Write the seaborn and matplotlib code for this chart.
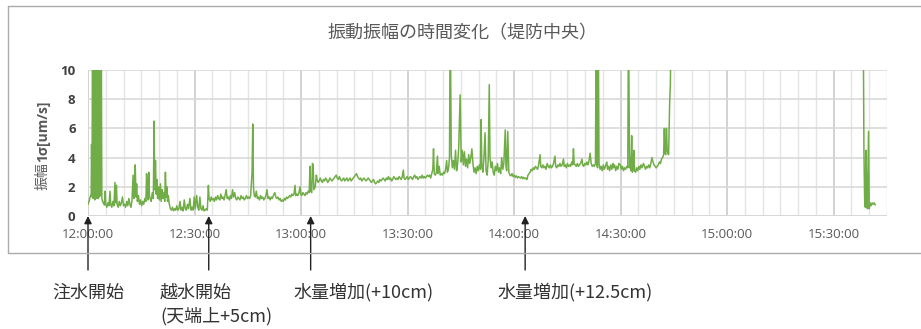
import matplotlib
matplotlib.use("Agg")
import numpy as np
import pandas as pd
import seaborn as sns
import matplotlib.pyplot as plt
import matplotlib.dates as mdates
from matplotlib.lines import Line2D

# ---- data: minutes after 12:00 and vibration amplitude (1 sigma, um/s) ----
run1_minutes = [
    0.0, 0.3, 0.6, 0.9, 1.0, 1.15, 1.3, 1.45, 1.6, 1.75, 1.9, 2.1, 2.25, 2.4, 2.6, 2.75, 2.9, 3.05, 3.2, 3.4,
    3.55, 3.75, 3.9, 4.1, 4.3, 4.6, 4.8, 5.0, 5.3, 5.6, 5.9, 6.2, 6.4, 6.7, 7.0, 7.3, 7.6, 7.8, 8.0, 8.2,
    8.5, 8.8, 9.1, 9.4, 9.7, 10.0, 10.3, 10.6, 10.9, 11.2, 11.5, 11.8, 12.1, 12.4, 12.7, 12.9, 13.1, 13.3, 13.5, 13.7,
    13.9, 14.2, 14.5, 14.8, 15.1, 15.4, 15.7, 16.0, 16.3, 16.5, 16.7, 16.9, 17.1, 17.3, 17.5, 17.8, 18.1, 18.4, 18.6, 18.8,
    19.0, 19.2, 19.4, 19.6, 19.9, 20.1, 20.4, 20.6, 20.9, 21.1, 21.4, 21.6, 21.8, 22.0, 22.2, 22.4, 22.6, 22.9, 23.2, 23.5,
    23.8, 24.1, 24.4, 24.7, 25.0, 25.3, 25.6, 25.9, 26.2, 26.5, 26.8, 27.1, 27.4, 27.7, 28.0, 28.3, 28.7, 29.0, 29.3, 29.6,
    29.9, 30.2, 30.6, 30.9, 31.2, 31.5, 31.8, 32.1, 32.4, 32.7, 33.0, 33.3, 33.6, 33.9, 34.1, 34.4, 34.7, 35.0, 35.3, 35.6,
    35.9, 36.2, 36.5, 36.8, 37.1, 37.4, 37.7, 38.0, 38.3, 38.6, 38.9, 39.2, 39.5, 39.8, 40.1, 40.4, 40.7, 41.0, 41.3, 41.6,
    41.9, 42.2, 42.5, 42.8, 43.1, 43.4, 43.7, 44.0, 44.3, 44.6, 44.9, 45.2, 45.5, 45.8, 46.2, 46.4, 46.6, 46.8, 47.1, 47.4,
    47.7, 48.0, 48.3, 48.6, 48.9, 49.2, 49.5, 49.8, 50.1, 50.4, 50.7, 51.0, 51.3, 51.6, 51.9, 52.2, 52.6, 52.9, 53.2, 53.5,
    53.8, 54.1, 54.4, 54.7, 55.0, 55.3, 55.6, 55.9, 56.2, 56.5, 56.8, 57.1, 57.4, 57.7, 58.0, 58.3, 58.5, 58.8, 59.1, 59.4,
    59.7, 59.9, 60.2, 60.5, 60.8, 61.1, 61.4, 61.7, 62.0, 62.3, 62.5, 62.7, 63.0, 63.2, 63.4, 63.6, 63.8, 64.0, 64.3, 64.5,
    64.8, 65.1, 65.4, 65.7, 66.0, 66.3, 66.6, 66.9, 67.2, 67.5, 67.8, 68.1, 68.4, 68.7, 69.0, 69.3, 69.6, 69.9, 70.2, 70.5,
    70.8, 71.1, 71.4, 71.7, 72.0, 72.3, 72.6, 72.9, 73.2, 73.5, 73.8, 74.1, 74.4, 74.7, 75.0, 75.3, 75.6, 75.9, 76.2, 76.5,
    76.8, 77.1, 77.4, 77.7, 78.0, 78.3, 78.6, 78.9, 79.2, 79.5, 79.8, 80.1, 80.4, 80.7, 81.0, 81.3, 81.6, 81.9, 82.2, 82.5,
    82.8, 83.1, 83.4, 83.7, 84.0, 84.3, 84.6, 84.9, 85.2, 85.5, 85.8, 86.1, 86.4, 86.7, 87.0, 87.3, 87.6, 87.9, 88.2, 88.5,
    88.8, 89.0, 89.3, 89.6, 89.9, 90.2, 90.5, 90.8, 91.1, 91.4, 91.7, 92.0, 92.3, 92.6, 92.9, 93.2, 93.5, 93.8, 94.1, 94.4,
    94.7, 95.0, 95.3, 95.6, 95.9, 96.2, 96.5, 96.8, 97.1, 97.3, 97.5, 97.8, 98.1, 98.4, 98.6, 98.9, 99.2, 99.5, 99.8, 100.1,
    100.4, 100.7, 101.0, 101.2, 101.5, 101.8, 102.0, 102.3, 102.6, 102.9, 103.2, 103.5, 103.8, 104.1, 104.4, 104.8, 105.1, 105.4, 105.7, 106.0,
    106.3, 106.6, 106.9, 107.2, 107.5, 107.8, 108.1, 108.4, 108.7, 109.0, 109.3, 109.6, 109.9, 110.2, 110.5, 110.7, 110.9, 111.2, 111.5, 111.8,
    112.1, 112.4, 112.7, 113.0, 113.2, 113.5, 113.8, 114.1, 114.4, 114.7, 115.0, 115.3, 115.6, 115.9, 116.2, 116.5, 116.8, 117.1, 117.5, 117.7,
    117.9, 118.2, 118.5, 118.8, 119.1, 119.4, 119.7, 120.0, 120.3, 120.6, 120.9, 121.2, 121.5, 121.8, 122.1, 122.4, 122.7, 123.0, 123.3, 123.6,
    123.9, 124.2, 124.5, 124.8, 125.1, 125.4, 125.7, 126.0, 126.3, 126.6, 126.9, 127.3, 127.5, 127.8, 128.1, 128.4, 128.7, 129.0, 129.3, 129.6,
    129.9, 130.2, 130.5, 130.8, 131.1, 131.5, 131.7, 132.0, 132.3, 132.6, 132.9, 133.2, 133.5, 133.9, 134.1, 134.4, 134.7, 135.0, 135.3, 135.6,
    135.9, 136.2, 136.5, 136.7, 136.9, 137.2, 137.5, 137.8, 138.1, 138.4, 138.7, 139.1, 139.3, 139.6, 139.9, 140.2, 140.5, 140.8, 141.1, 141.4,
    141.7, 142.0, 142.3, 142.6, 142.9, 143.1, 143.3, 143.5, 143.7, 143.9, 144.2, 144.5, 144.8, 145.1, 145.4, 145.7, 146.1, 146.3, 146.6, 146.9,
    147.2, 147.5, 147.8, 148.0, 148.3, 148.6, 148.9, 149.2, 149.5, 149.9, 150.2, 150.5, 150.8, 151.1, 151.4, 151.7, 152.0, 152.2, 152.5, 152.7,
    152.9, 153.1, 153.3, 153.5, 153.7, 153.9, 154.2, 154.5, 154.8, 155.1, 155.4, 155.7, 156.0, 156.4, 156.7, 157.0, 157.3, 157.6, 157.9, 158.2,
    158.5, 158.8, 159.1, 159.4, 159.7, 160.0, 160.3, 160.6, 160.9, 161.2, 161.5, 161.8, 162.1, 162.3, 162.5, 162.7, 162.9, 163.1, 163.3, 163.5,
    163.7, 163.8, 164.0, 164.2,
]
run1_amp = [
    0.8, 1.0, 1.3, 1.5, 4.9, 1.3, 18, 1.2, 1.5, 20, 1.1, 1.3, 22, 1.2, 16, 1.3, 1.2, 24, 1.3, 19,
    1.4, 12, 1.2, 1.0, 0.9, 0.75, 1.7, 0.8, 0.6, 0.9, 0.7, 1.7, 0.8, 0.6, 1.0, 0.7, 2.3, 0.9, 2.1, 0.8,
    0.6, 1.0, 0.7, 0.9, 1.3, 0.7, 0.8, 0.6, 1.0, 0.7, 1.2, 0.8, 0.6, 1.1, 2.8, 1.2, 1.6, 3.5, 1.3, 2.2,
    1.0, 1.4, 0.8, 1.1, 0.7, 1.0, 0.8, 1.2, 1.0, 2.9, 1.3, 1.1, 3.0, 1.4, 1.2, 1.0, 1.6, 1.2, 6.5, 1.8,
    3.8, 1.5, 2.5, 1.2, 2.0, 1.1, 2.2, 1.0, 1.8, 1.2, 1.6, 1.0, 3.0, 1.3, 2.0, 1.0, 1.4, 0.8, 0.5, 0.4,
    0.6, 0.35, 0.5, 0.4, 0.7, 0.4, 0.5, 1.0, 0.4, 0.6, 0.35, 1.1, 0.5, 0.4, 0.8, 0.5, 1.2, 0.4, 0.6, 0.4,
    1.3, 0.5, 1.4, 0.6, 0.4, 1.3, 0.5, 0.4, 0.7, 0.35, 0.4, 0.5, 0.4, 2.1, 1.2, 1.0, 1.3, 1.1, 1.2, 1.0,
    1.3, 1.1, 1.4, 1.2, 1.1, 1.5, 1.2, 1.3, 1.1, 1.4, 1.8, 1.2, 1.3, 1.1, 1.4, 1.2, 1.8, 1.3, 1.6, 1.2,
    1.1, 1.3, 1.2, 1.1, 1.4, 1.2, 1.3, 1.1, 1.2, 1.4, 1.2, 1.3, 1.2, 1.4, 3.0, 6.3, 2.0, 1.4, 1.3, 1.7,
    1.2, 1.3, 1.1, 1.4, 1.2, 1.3, 1.1, 1.2, 1.4, 1.8, 1.2, 1.3, 1.1, 1.3, 1.2, 1.4, 1.6, 1.3, 1.2, 1.3,
    1.1, 1.2, 1.0, 1.1, 1.0, 1.2, 1.1, 1.3, 1.2, 1.3, 1.4, 1.3, 1.5, 1.4, 1.5, 2.1, 1.4, 1.5, 1.4, 1.6,
    2.0, 1.5, 1.4, 1.6, 1.5, 1.4, 1.6, 1.5, 1.7, 1.6, 3.4, 1.7, 1.6, 3.6, 3.5, 1.8, 1.9, 2.0, 2.8, 2.5,
    2.3, 2.4, 2.6, 2.4, 2.3, 2.5, 2.4, 2.6, 2.5, 2.3, 2.4, 2.6, 2.5, 2.4, 2.5, 2.6, 2.7, 2.8, 2.6, 2.5,
    2.7, 2.5, 2.4, 2.5, 2.6, 2.4, 2.5, 2.6, 2.4, 2.5, 2.6, 2.4, 2.5, 2.6, 2.7, 2.8, 2.9, 2.7, 2.6, 2.5,
    2.6, 2.4, 2.5, 2.6, 2.5, 2.4, 2.5, 2.6, 2.5, 2.4, 2.3, 2.4, 2.5, 2.3, 2.2, 2.3, 2.4, 2.3, 2.5, 2.4,
    2.5, 2.6, 2.5, 2.4, 2.6, 2.5, 2.7, 2.5, 2.6, 2.4, 2.5, 2.7, 2.6, 2.5, 2.6, 2.5, 2.7, 2.6, 2.5, 2.7,
    3.15, 2.6, 2.5, 2.6, 2.7, 2.5, 2.6, 2.7, 2.6, 2.5, 2.7, 2.8, 2.6, 2.7, 2.5, 2.6, 2.7, 2.6, 2.8, 2.6,
    2.7, 2.6, 2.7, 2.8, 2.7, 2.8, 2.6, 2.9, 3.2, 4.6, 2.9, 2.8, 3.0, 4.1, 2.9, 3.4, 2.8, 2.9, 2.8, 3.0,
    2.9, 3.2, 3.8, 3.0, 3.2, 4.0, 14, 4.2, 3.3, 3.8, 3.2, 4.5, 3.1, 3.6, 4.7, 8.3, 3.7, 4.5, 3.5, 4.4,
    3.4, 3.9, 3.3, 4.2, 3.6, 4.0, 4.6, 3.6, 3.0, 3.3, 2.9, 3.4, 3.1, 3.5, 3.2, 6.6, 3.4, 3.0, 4.0, 5.7,
    3.1, 2.8, 3.8, 9.0, 4.0, 3.3, 3.7, 3.0, 2.8, 3.4, 3.1, 3.6, 3.0, 3.3, 2.9, 4.0, 3.2, 3.6, 5.9, 3.4,
    3.1, 5.8, 3.0, 2.8, 2.75, 2.9, 2.7, 2.8, 2.65, 2.75, 2.6, 2.7, 2.65, 2.6, 2.7, 2.55, 2.65, 2.55, 2.6, 2.5,
    2.8, 2.9, 3.0, 3.2, 3.1, 3.3, 3.2, 3.4, 3.3, 3.2, 3.5, 4.2, 3.4, 3.3, 3.5, 3.3, 3.4, 3.2, 3.6, 3.4,
    3.3, 3.5, 3.3, 3.4, 3.6, 4.1, 3.4, 3.3, 3.5, 3.4, 3.6, 3.4, 3.5, 3.9, 3.4, 3.5, 3.3, 3.6, 3.4, 3.5,
    3.4, 3.7, 3.5, 4.6, 3.6, 3.5, 3.4, 3.6, 3.4, 3.5, 3.6, 3.9, 3.5, 3.4, 3.6, 3.5, 3.7, 3.5, 3.8, 4.3,
    3.6, 3.4, 3.5, 3.4, 3.6, 13, 3.5, 3.3, 13, 3.6, 3.2, 3.4, 3.1, 3.5, 3.2, 3.4, 3.7, 3.2, 3.4, 3.1,
    3.5, 3.2, 3.6, 3.3, 3.5, 3.1, 3.4, 3.2, 3.6, 3.5, 3.2, 3.4, 3.1, 3.3, 3.2, 3.4, 3.3, 14, 3.3, 4.0,
    3.1, 5.5, 3.0, 3.2, 4.5, 3.1, 3.0, 3.3, 3.1, 3.4, 3.2, 3.5, 3.3, 3.6, 3.4, 3.2, 3.4, 3.3, 3.5, 3.3,
    3.6, 4.0, 3.7, 3.5, 3.4, 3.3, 3.4, 3.5, 3.7, 3.6, 3.9, 4.0, 4.2, 6.0, 4.3, 4.2, 6.0, 4.5, 4.3, 4.2,
    6.5, 7.8, 9.0, 14,
]
run2_minutes = [218.3, 218.5, 218.7, 218.9, 219.1, 219.3, 219.5, 219.8, 220.0, 220.2, 220.5, 220.8, 221.1, 221.4, 221.7]
run2_amp = [14, 4.6, 1.2, 0.6, 4.5, 0.7, 0.5, 5.8, 0.5, 0.9, 0.7, 0.9, 0.8, 0.9, 0.75]

title = "振動振幅の時間変化（堤防中央）"
y_label_jp = "振幅"
y_label_unit = "1σ[um/s]"
y_ticks = [0, 2, 4, 6, 8, 10]
event_minutes = [0, 34, 62.7, 123.1]

W, H = 921, 329
start = pd.Timestamp("2000-01-01 12:00:00")

df = pd.concat([
    pd.DataFrame({"time": start + pd.to_timedelta(run1_minutes, unit="m"), "amp": run1_amp, "run": 1}),
    pd.DataFrame({"time": start + pd.to_timedelta(run2_minutes, unit="m"), "amp": run2_amp, "run": 2}),
], ignore_index=True)

sns.set_theme(style="white")
plt.rcParams["font.family"] = ["Open Sans", "Noto Sans CJK JP", "DejaVu Sans"]

fig = plt.figure(figsize=(W / 100, H / 100), dpi=100)
ax = fig.add_axes([88 / W, 1 - 216 / H, (887 - 88) / W, (216 - 70) / H])

sns.lineplot(data=df, x="time", y="amp", units="run", estimator=None,
             color="#70AD47", linewidth=1.1, ax=ax, legend=False)

ax.set_xlim(start, start + pd.Timedelta(minutes=225))
ax.set_ylim(0, 10)
ax.set_yticks(y_ticks)
ax.set_yticklabels([str(v) for v in y_ticks])
ax.xaxis.set_major_locator(mdates.MinuteLocator(byminute=[0, 30]))
ax.xaxis.set_minor_locator(mdates.MinuteLocator(byminute=range(0, 60, 5)))
ax.xaxis.set_major_formatter(mdates.DateFormatter("%H:%M:%S"))

ax.set_axisbelow(True)
ax.grid(False)
ax.grid(which="major", axis="x", color="#D2D2D2", linewidth=1.4)
ax.grid(which="minor", axis="x", color="#E4E4E4", linewidth=1.0)
ax.grid(which="major", axis="y", color="#D9D9D9", linewidth=1.2)
for s in ax.spines.values():
    s.set_visible(False)
ax.axhline(0, color="#C6C6C6", linewidth=1.2, zorder=0.5)

ax.tick_params(axis="both", which="both", length=0)
ax.tick_params(axis="x", labelsize=9.5, labelcolor="#595959", pad=9)
ax.tick_params(axis="y", labelsize=9.5, labelcolor="#404040", pad=9)
for lbl in ax.get_yticklabels():
    lbl.set_fontweight("bold")
ax.set_xlabel("")
ax.set_ylabel("")

# y-axis title: Japanese part regular, unit part bold
fig.text(43 / W, 1 - 176.5 / H, y_label_jp, rotation=90, ha="center", va="center",
         fontsize=10, color="#595959", family=["Noto Sans CJK JP", "DejaVu Sans"])
fig.text(43 / W, 1 - 131 / H, y_label_unit, rotation=90, ha="center", va="center",
         fontsize=10, fontweight="bold", color="#595959")

fig.text(462 / W, 1 - 33 / H, title, ha="center", va="center", fontsize=13,
         color="#595959", family=["Noto Sans CJK JP", "DejaVu Sans"])

# event arrows below the time axis
for m in event_minutes:
    xt = mdates.date2num(start + pd.Timedelta(minutes=m))
    ax.annotate("", xy=(xt, 0), xycoords=("data", "axes fraction"),
                xytext=(xt, -(270 - 216) / (216 - 70)), textcoords=("data", "axes fraction"),
                arrowprops=dict(arrowstyle="-|>", color="#222222", lw=1.0,
                                mutation_scale=11, shrinkA=0, shrinkB=0),
                annotation_clip=False)

label_font = dict(fontsize=13, color="#333333", va="center",
                  family=["Noto Sans CJK JP", "DejaVu Sans"])
fig.text(88 / W, 1 - 292.5 / H, "注水開始", ha="center", **label_font)
fig.text(160 / W, 1 - 292.5 / H, "越水開始", ha="left", **label_font)
fig.text(160 / W, 1 - 316 / H, "(天端上+5cm)", ha="left", **label_font)
fig.text(293 / W, 1 - 292.5 / H, "水量増加(+10cm)", ha="left", **label_font)
fig.text(497 / W, 1 - 292.5 / H, "水量増加(+12.5cm)", ha="left", **label_font)

# chart frame
frame = dict(color="#ABABAB", linewidth=1.0, transform=fig.transFigure)
fig.add_artist(Line2D([8 / W, 1.0], [1 - 6 / H, 1 - 6 / H], **frame))
fig.add_artist(Line2D([8 / W, 8 / W], [1 - 6 / H, 1 - 253 / H], **frame))
fig.add_artist(Line2D([8 / W, 1.0], [1 - 253 / H, 1 - 253 / H], **frame))

fig.savefig("out.png", dpi=100)
